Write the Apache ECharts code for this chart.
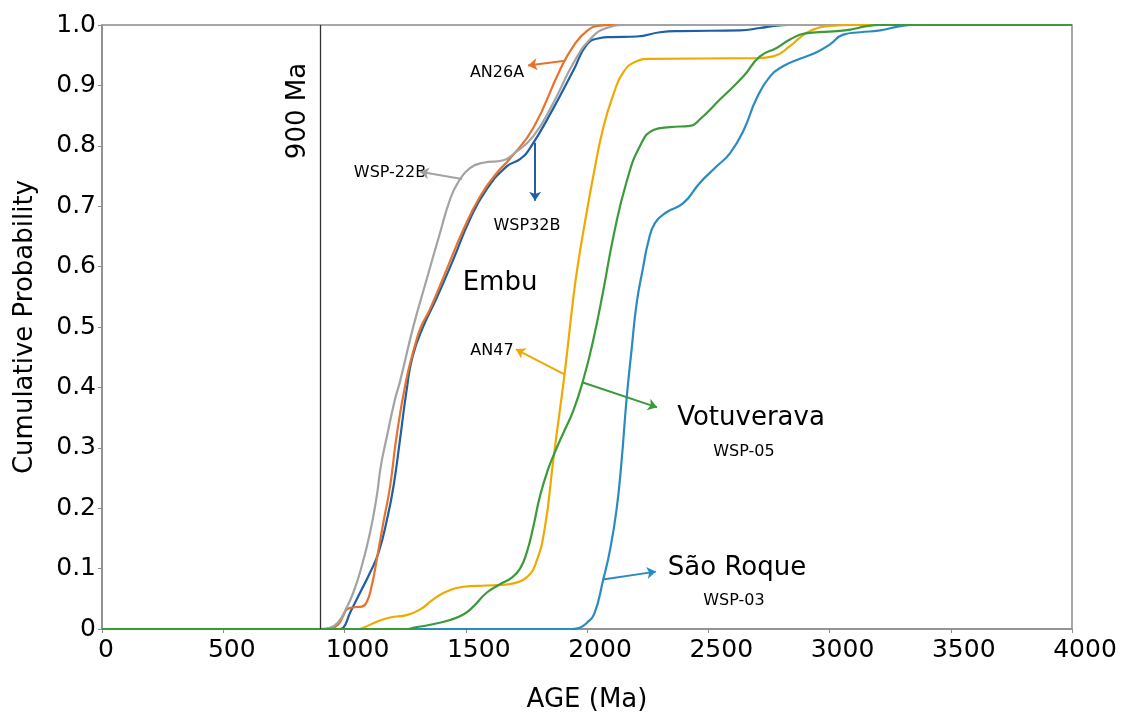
<!DOCTYPE html>
<html>
<head>
<meta charset="utf-8">
<title>Cumulative probability of detrital zircon ages</title>
<script src="https://cdn.jsdelivr.net/npm/echarts@6/dist/echarts.min.js"></script>
<style>
  html, body { margin: 0; padding: 0; background: #fff; }
  #chart { width: 1127px; height: 721px; }
</style>
</head>
<body>
<div id="chart"></div>
<script>
// Age (Ma) vs cumulative probability, one array per sample.
const xTicks = [0, 500, 1000, 1500, 2000, 2500, 3000, 3500, 4000];
const yTicks = [0, 0.1, 0.2, 0.3, 0.4, 0.5, 0.6, 0.7, 0.8, 0.9, 1.0];
const refAge = 900;

const wsp22b = [[0,0],[900,0],[940,0.002],[975,0.012],[1002,0.03],[1036,0.06],[1071,0.104],[1105,0.159],
  [1133,0.22],[1150,0.27],[1175,0.319],[1208,0.38],[1229,0.41],[1284,0.501],[1339,0.579],
  [1394,0.656],[1435,0.711],[1469,0.74],[1517,0.763],[1572,0.772],[1655,0.776],[1696,0.786],[1779,0.816],
  [1861,0.871],[1944,0.937],[2012,0.976],[2081,0.995],[2164,1],[4000,1]];

const an26a = [[0,0],[900,0],[950,0.002],[975,0.008],[995,0.022],[1012,0.033],[1040,0.036],[1071,0.037],
  [1092,0.045],[1112,0.071],[1133,0.115],[1160,0.176],[1188,0.236],[1215,0.32],[1255,0.413],[1291,0.47],
  [1315,0.5],[1353,0.53],[1421,0.595],[1490,0.661],[1559,0.716],[1628,0.755],[1683,0.779],[1779,0.83],
  [1889,0.926],[1944,0.965],[1999,0.99],[2054,0.999],[2100,1],[4000,1]];

const wsp32b = [[0,0],[980,0],[995,0.002],[1023,0.027],[1064,0.06],[1105,0.093],[1140,0.126],[1175,0.181],
  [1202,0.236],[1229,0.314],[1256,0.395],[1280,0.45],[1325,0.501],[1380,0.548],[1449,0.612],[1517,0.678],
  [1586,0.728],[1669,0.766],[1724,0.778],[1765,0.796],[1861,0.862],[1944,0.925],
  [2000,0.968],[2050,0.978],[2100,0.98],[2205,0.981],[2301,0.988],[2383,0.99],[2631,0.991],[2713,0.995],
  [2782,0.999],[2830,1],[4000,1]];

const an47 = [[0,0],[1060,0],[1078,0.002],[1133,0.012],[1188,0.019],[1256,0.023],[1311,0.032],[1366,0.049],
  [1421,0.062],[1490,0.07],[1586,0.072],[1650,0.073],[1700,0.076],[1750,0.085],[1790,0.11],
  [1827,0.17],[1861,0.28],[1909,0.427],[1944,0.55],[1965,0.61],[1990,0.67],[2026,0.75],
  [2067,0.83],[2109,0.885],[2150,0.922],[2205,0.94],[2260,0.944],[2700,0.945],[2768,0.948],
  [2837,0.965],[2878,0.979],[2920,0.99],[2989,0.998],[3110,1],[4000,1]];

const wsp05 = [[0,0],[1260,0],[1284,0.002],[1353,0.007],[1435,0.015],[1490,0.024],[1531,0.037],[1586,0.06],
  [1641,0.074],[1690,0.085],[1724,0.1],[1751,0.126],[1779,0.17],[1806,0.22],[1840,0.265],[1870,0.295],
  [1903,0.325],[1944,0.362],[1985,0.413],[2026,0.479],[2067,0.56],[2109,0.65],[2163,0.74],[2219,0.8],
  [2274,0.826],[2342,0.831],[2425,0.833],[2466,0.844],[2549,0.877],[2645,0.915],[2713,0.948],[2782,0.962],
  [2837,0.976],[2900,0.986],[3000,0.989],[3080,0.992],[3153,0.998],[3208,1],[4000,1]];

const wsp03 = [[0,0],[1940,0],[1970,0.002],[1999,0.01],[2030,0.025],[2067,0.082],[2095,0.131],
  [2122,0.198],[2143,0.28],[2163,0.38],[2184,0.463],[2205,0.54],[2232,0.6],[2252,0.64],
  [2280,0.672],[2328,0.69],[2397,0.705],[2466,0.739],[2535,0.766],[2590,0.788],[2645,0.825],[2700,0.879],
  [2755,0.915],[2810,0.932],[2878,0.944],[2947,0.955],[3002,0.968],[3057,0.984],[3126,0.988],[3208,0.991],
  [3291,0.998],[3346,1],[4000,1]];

// Leader arrows: [start on curve, arrow head], in data coordinates
const arrowAN26A = [[1909, 0.941], [1757, 0.933]];
const arrowWSP22B = [[1485, 0.745], [1311, 0.757]];
const arrowWSP32B = [[1786, 0.805], [1786, 0.709]];
const arrowAN47 = [[1909, 0.421], [1707, 0.463]];
const arrowWSP05 = [[1983, 0.408], [2289, 0.367]];
const arrowWSP03 = [[2066, 0.082], [2284, 0.095]];

const FONT = 'DejaVu Sans';
const colors = {
  wsp22b: '#a3a3a3',
  an26a: '#e8722c',
  wsp32b: '#1e5fa6',
  an47: '#f0a900',
  wsp05: '#3b9a3a',
  wsp03: '#2a8bc3'
};

function arrow(pair, color) {
  return {
    silent: true,
    symbol: ['none', 'arrow'],
    symbolSize: [9, 9],
    label: { show: false },
    lineStyle: { color: color, width: 2, type: 'solid' },
    emphasis: { disabled: true },
    data: [[{ coord: pair[0] }, { coord: pair[1] }]]
  };
}

function curve(name, data, color, extraMarkLine) {
  return {
    name: name,
    type: 'line',
    data: data,
    showSymbol: false,
    symbol: 'none',
    smooth: 0.5,
    lineStyle: { color: color, width: 2.2 },
    itemStyle: { color: color },
    emphasis: { disabled: true },
    markLine: extraMarkLine
  };
}

const chart = echarts.init(document.getElementById('chart'), null, { renderer: 'canvas' });

const refLine = {
  silent: true,
  symbol: ['none', 'none'],
  label: { show: false },
  lineStyle: { color: '#333', width: 1.3, type: 'solid' },
  emphasis: { disabled: true },
  data: [{ xAxis: refAge }]
};

// x tick labels sit slightly right of their ticks; shift grows with label length
const labelFont = { fontFamily: FONT, fontSize: 25, color: '#000' };
const xLabelRich = {
  d1: Object.assign({ padding: [0, 0, 0, 8] }, labelFont),
  d3: Object.assign({ padding: [0, 0, 0, 17] }, labelFont),
  d4: Object.assign({ padding: [0, 0, 0, 26] }, labelFont)
};

const option = {
  animation: false,
  backgroundColor: '#ffffff',
  grid: {
    left: 102, right: 55, top: 25, bottom: 92,
    show: true, borderColor: '#8c8c8c', borderWidth: 1.5, backgroundColor: 'transparent'
  },
  xAxis: {
    type: 'value',
    min: xTicks[0], max: xTicks[xTicks.length - 1], interval: 500,
    name: 'AGE (Ma)', nameLocation: 'middle', nameGap: 58,
    nameTextStyle: { fontFamily: FONT, fontSize: 26, color: '#000' },
    axisLine: { show: true, lineStyle: { color: '#8c8c8c', width: 1.5 } },
    axisTick: { show: true, length: 4, lineStyle: { color: '#8c8c8c' } },
    axisLabel: {
      fontFamily: FONT, fontSize: 25, color: '#000', margin: 9,
      formatter: v => {
        const s = String(v);
        return '{d' + (s.length >= 4 ? 4 : s.length >= 3 ? 3 : 1) + '|' + s + '}';
      },
      rich: xLabelRich
    },
    splitLine: { show: false }
  },
  yAxis: {
    type: 'value',
    min: yTicks[0], max: yTicks[yTicks.length - 1], interval: 0.1,
    name: 'Cumulative Probability', nameLocation: 'middle', nameGap: 64, nameRotate: 90,
    nameTextStyle: { fontFamily: FONT, fontSize: 26, color: '#000' },
    axisLine: { show: true, lineStyle: { color: '#8c8c8c', width: 1.5 } },
    axisTick: { show: true, length: 4, lineStyle: { color: '#8c8c8c' } },
    axisLabel: {
      fontFamily: FONT, fontSize: 25, color: '#000', margin: 6,
      formatter: v => (v === 0 ? '0' : v.toFixed(1))
    },
    splitLine: { show: false }
  },
  series: [
    curve('WSP32B', wsp32b, colors.wsp32b, arrow(arrowWSP32B, colors.wsp32b)),
    curve('AN26A', an26a, colors.an26a, arrow(arrowAN26A, colors.an26a)),
    curve('WSP-22B', wsp22b, colors.wsp22b, arrow(arrowWSP22B, colors.wsp22b)),
    curve('AN47', an47, colors.an47, arrow(arrowAN47, colors.an47)),
    curve('WSP-03', wsp03, colors.wsp03, arrow(arrowWSP03, colors.wsp03)),
    curve('WSP-05', wsp05, colors.wsp05, arrow(arrowWSP05, colors.wsp05)),
    {
      name: 'ref',
      type: 'line',
      data: [],
      markLine: refLine,
      z: 1
    }
  ]
};

chart.setOption(option);

// Text annotations
function txt(x, y, text, size, rotation) {
  return {
    type: 'text',
    x: x, y: y,
    rotation: rotation || 0,
    silent: true,
    style: {
      text: text,
      fontFamily: FONT,
      fontSize: size,
      fill: '#000',
      align: 'center',
      verticalAlign: 'middle'
    }
  };
}

chart.setOption({
  graphic: [
    txt(298, 111, '900 Ma', 26, Math.PI / 2),
    txt(500, 283, 'Embu', 26),
    txt(751, 418, 'Votuverava', 26),
    txt(744, 452, 'WSP-05', 16),
    txt(737, 568, 'São Roque', 26),
    txt(734, 601, 'WSP-03', 16),
    txt(497, 73, 'AN26A', 16),
    txt(390, 173, 'WSP-22B', 16),
    txt(527, 226, 'WSP32B', 16),
    txt(492, 351, 'AN47', 16)
  ]
});
</script>
</body>
</html>
